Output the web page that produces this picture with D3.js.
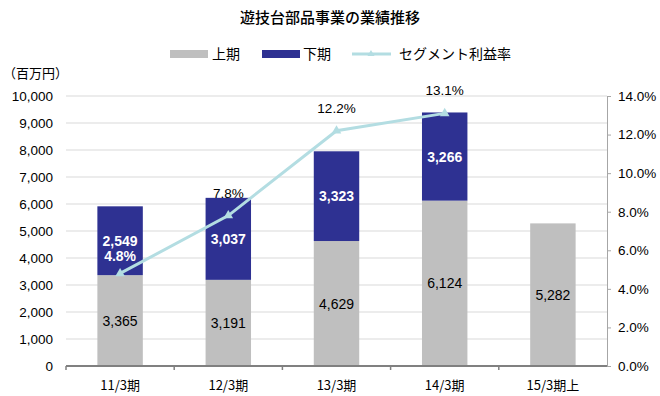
<!DOCTYPE html>
<html>
<head>
<meta charset="utf-8">
<script src="https://cdn.jsdelivr.net/npm/d3@7"></script>
<style>
  body { margin: 0; background: #fff; }
  text { font-family: "Liberation Sans", Arial, "Noto Sans CJK JP", sans-serif; }
  .jp { font-family: "Noto Sans CJK JP", sans-serif; }
</style>
</head>
<body>
<script>
// chart data
const categories = ["11/3期", "12/3期", "13/3期", "14/3期", "15/3期上"]
const firstHalf = [3365, 3191, 4629, 6124, 5282]
const secondHalf = [2549, 3037, 3323, 3266, null]
const marginRate = [4.8, 7.8, 12.2, 13.1, null]
const leftTicks = [0, 1000, 2000, 3000, 4000, 5000, 6000, 7000, 8000, 9000, 10000]
const rightTicks = [0, 2, 4, 6, 8, 10, 12, 14]

let width = 660
let height = 396
const gray = "#bfbfbf", navy = "#2e3192", lineCol = "#b3dde2"

let svg = d3.select("body").append("svg")
  .attr("width", width)
  .attr("height", height)

const plot = { left: 66, right: 607, top: 96, bottom: 366 }

var x = d3.scaleBand().domain(categories).range([plot.left, plot.right]).paddingInner(0.58).paddingOuter(0.29)
var y = d3.scaleLinear().domain([0, 10000]).range([plot.bottom, plot.top])
var y2 = d3.scaleLinear().domain([0, 14]).range([plot.bottom, plot.top])
const fmt = d3.format(",")

// title
svg.append("text").attr("class", "jp")
  .attr("x", 330).attr("y", 23)
  .attr("text-anchor", "middle")
  .style("font-size", "15px").style("font-weight", "500")
  .text("遊技台部品事業の業績推移")

// legend
const lg = svg.append("g").attr("transform", "translate(0,54)")
lg.append("rect").attr("x", 170).attr("y", -4).attr("width", 38).attr("height", 8).attr("fill", gray)
lg.append("text").attr("class", "jp").attr("x", 212).attr("y", 5).style("font-size", "14px").text("上期")
lg.append("rect").attr("x", 262).attr("y", -4).attr("width", 38).attr("height", 8).attr("fill", navy)
lg.append("text").attr("class", "jp").attr("x", 303).attr("y", 5).style("font-size", "14px").text("下期")
lg.append("line").attr("x1", 352).attr("x2", 391).attr("y1", 0).attr("y2", 0)
  .attr("stroke", lineCol).attr("stroke-width", 3)
lg.append("path").attr("d", d3.symbol(d3.symbolTriangle).size(22)).attr("transform", "translate(371,0)").attr("fill", lineCol)
lg.append("text").attr("class", "jp").attr("x", 399).attr("y", 5).style("font-size", "14px").text("セグメント利益率")

// unit label
svg.append("text").attr("class", "jp")
  .attr("x", 3).attr("y", 78)
  .style("font-size", "13px")
  .text("（百万円）")

// gridlines
svg.append("g").selectAll("line")
  .data(leftTicks.filter(d => d > 0)).enter()
  .append("line")
  .attr("x1", plot.left).attr("x2", plot.right)
  .attr("y1", d => y(d)).attr("y2", d => y(d))
  .attr("stroke", "#d9d9d9").attr("stroke-width", 1)

// left axis
let leftAxis = svg.append("g")
  .attr("transform", "translate(" + (plot.left - 13) + ",0)")
  .call(d3.axisLeft(y).tickValues(leftTicks).tickSize(0).tickFormat(fmt))
leftAxis.select(".domain").remove()
leftAxis.selectAll("text").style("font-size", "13.5px").attr("fill", "#000").attr("x", 0)

// right axis
let rightAxis = svg.append("g")
  .attr("transform", "translate(" + plot.right + ",0)")
  .call(d3.axisRight(y2).tickValues(rightTicks).tickSize(4).tickSizeOuter(0).tickFormat(d => d.toFixed(1) + "%"))
rightAxis.select(".domain").attr("stroke", "#a6a6a6")
rightAxis.selectAll("line").attr("stroke", "#a6a6a6")
rightAxis.selectAll("text").style("font-size", "13.5px").attr("fill", "#000").attr("x", 11)

// bars
let barData = categories.map((c, i) => ({ c: c, a: firstHalf[i], b: secondHalf[i], r: marginRate[i] }))

svg.append("g").selectAll("rect")
  .data(barData).enter()
  .append("rect")
  .attr("x", d => x(d.c))
  .attr("width", x.bandwidth())
  .attr("y", d => y(d.a))
  .attr("height", d => y(0) - y(d.a))
  .attr("fill", gray)

svg.append("g").selectAll("rect")
  .data(barData.filter(d => d.b != null)).enter()
  .append("rect")
  .attr("x", d => x(d.c))
  .attr("width", x.bandwidth())
  .attr("y", d => y(d.a + d.b))
  .attr("height", d => y(d.a) - y(d.a + d.b))
  .attr("fill", navy)

// x axis baseline and ticks
let xAxis = svg.append("g").attr("transform", "translate(0," + plot.bottom + ")")
xAxis.append("line").attr("x1", plot.left).attr("x2", plot.right)
  .attr("stroke", "#808080").attr("stroke-width", 2)
xAxis.selectAll(".tk")
  .data(categories).enter()
  .append("line")
  .attr("x1", d => x(d) - x.step() * 0.29).attr("x2", d => x(d) - x.step() * 0.29)
  .attr("y1", 0).attr("y2", 4)
  .attr("stroke", "#808080").attr("stroke-width", 1.5)
xAxis.selectAll("text")
  .data(categories).enter()
  .append("text").attr("class", "jp")
  .attr("x", d => x(d) + x.bandwidth() / 2)
  .attr("y", 24)
  .attr("text-anchor", "middle")
  .style("font-size", "13px")
  .text(d => d)

// value labels
svg.append("g").selectAll("text")
  .data(barData).enter()
  .append("text")
  .attr("x", d => x(d.c) + x.bandwidth() / 2)
  .attr("y", d => (y(0) + y(d.a)) / 2 + 5)
  .attr("text-anchor", "middle")
  .style("font-size", "14px")
  .text(d => fmt(d.a))

svg.append("g").selectAll("text")
  .data(barData.filter(d => d.b != null)).enter()
  .append("text")
  .attr("x", d => x(d.c) + x.bandwidth() / 2)
  .attr("y", d => (y(d.a) + y(d.a + d.b)) / 2 + 5)
  .attr("text-anchor", "middle")
  .attr("fill", "#fff")
  .style("font-size", "14px").style("font-weight", "bold")
  .text(d => fmt(d.b))

// margin line
let lineData = barData.filter(d => d.r != null)
let line = d3.line()
  .x(d => x(d.c) + x.bandwidth() / 2)
  .y(d => y2(d.r))

svg.append("path")
  .datum(lineData)
  .attr("d", line)
  .attr("fill", "none")
  .attr("stroke", lineCol)
  .attr("stroke-width", 3)

svg.append("g").selectAll("path")
  .data(lineData).enter()
  .append("path")
  .attr("d", d3.symbol(d3.symbolTriangle).size(40))
  .attr("transform", d => "translate(" + (x(d.c) + x.bandwidth() / 2) + "," + y2(d.r) + ")")
  .attr("fill", lineCol)

// first label sits inside the navy bar
svg.append("g").selectAll("text")
  .data(lineData).enter()
  .append("text")
  .attr("x", d => x(d.c) + x.bandwidth() / 2)
  .attr("y", (d, i) => i == 0 ? y2(d.r) - 12 : y2(d.r) - 18)
  .attr("text-anchor", "middle")
  .attr("fill", (d, i) => i == 0 ? "#fff" : "#000")
  .style("font-size", (d, i) => i == 0 ? "14px" : "13.5px")
  .style("font-weight", (d, i) => i == 0 ? "bold" : "normal")
  .text(d => d.r.toFixed(1) + "%")
</script>
</body>
</html>
